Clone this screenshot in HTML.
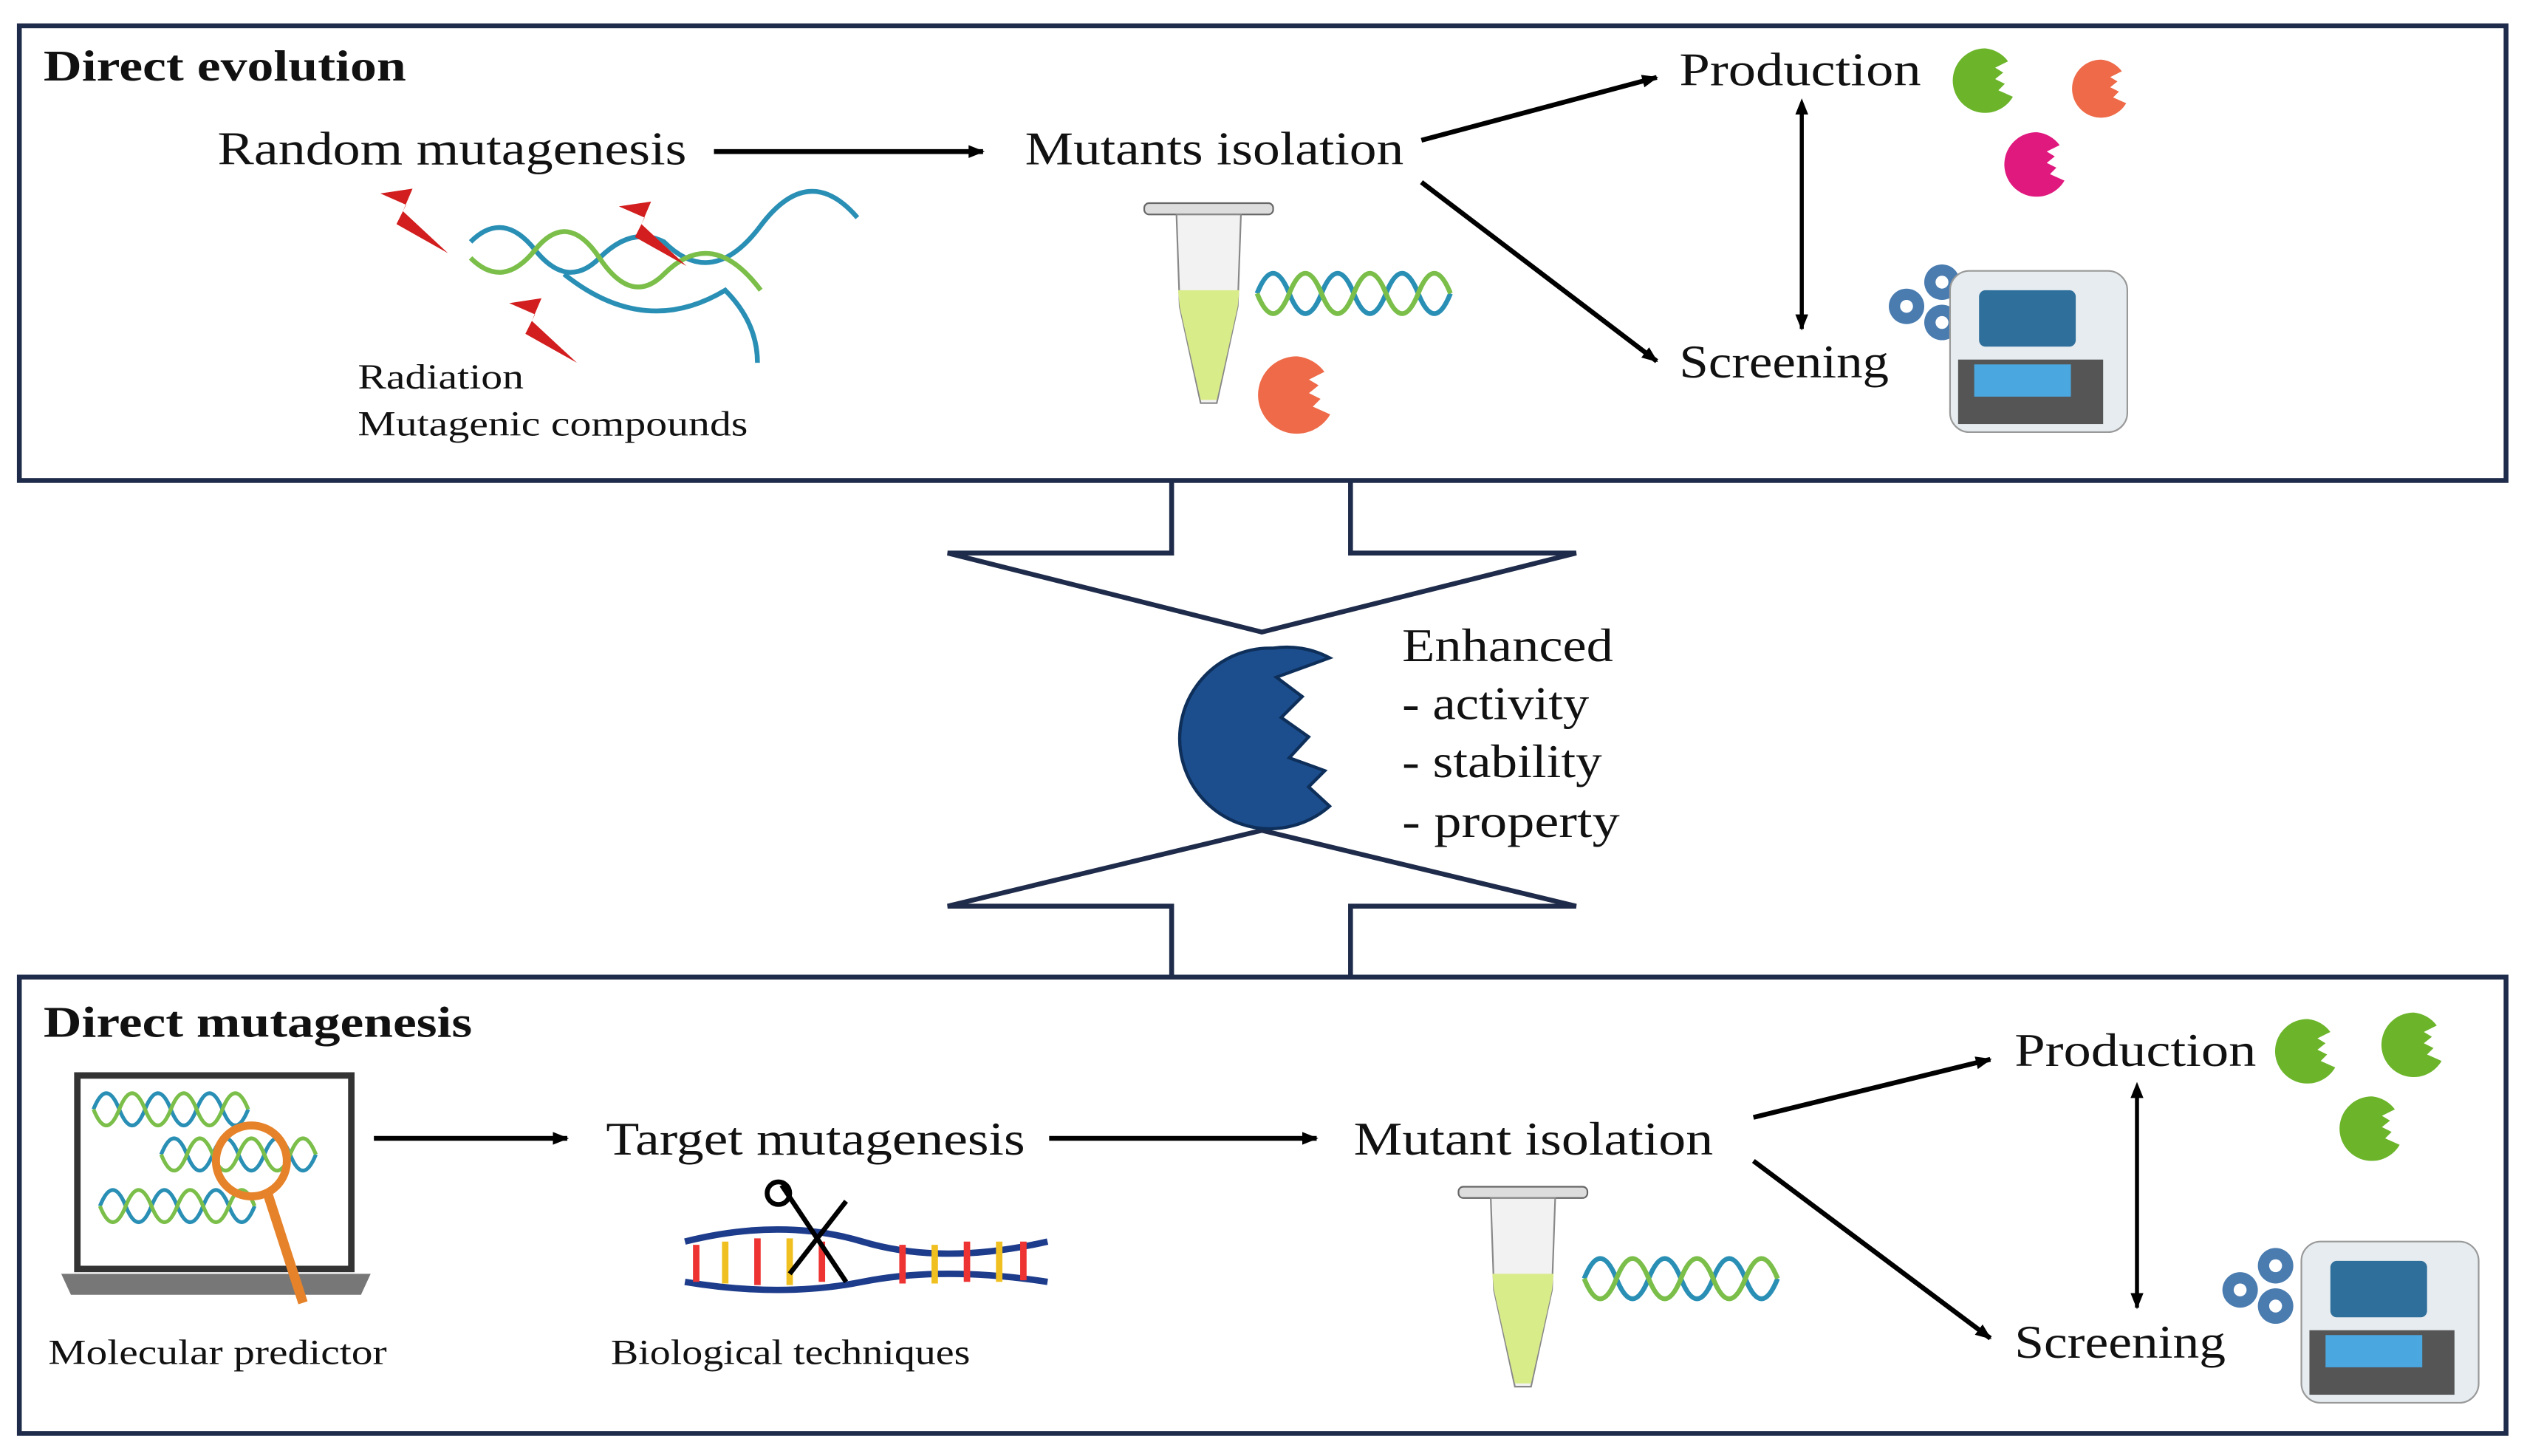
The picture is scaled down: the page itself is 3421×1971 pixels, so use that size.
<!DOCTYPE html>
<html><head><meta charset="utf-8"><style>
html,body{margin:0;padding:0;background:#fff;}
svg{display:block;}
text{font-family:"Liberation Serif",serif;fill:#111;}
</style></head><body>
<svg width="3421" height="1971" viewBox="0 0 1568 903" preserveAspectRatio="none" xmlns="http://www.w3.org/2000/svg">
<defs>
<marker id="ah" markerWidth="10" markerHeight="10" refX="9" refY="5" orient="auto" markerUnits="userSpaceOnUse">
<path d="M0,1 L10,5 L0,9 Z" fill="#000"/></marker>
<marker id="ahs" markerWidth="10" markerHeight="10" refX="1" refY="5" orient="auto-start-reverse" markerUnits="userSpaceOnUse">
<path d="M0,1 L10,5 L0,9 Z" fill="#000"/></marker>
<g id="pac"><path d="M0,-20 A20,20 0 1,0 17,10 L8,6 L12,2 L6,-1 L11,-5 L6,-8 L14,-12 A20,20 0 0,0 0,-20 Z"/></g>
<g id="tube">
<rect x="-40" y="-4" width="80" height="7" rx="3" fill="#ddd" stroke="#666"/>
<path d="M-20,3 L20,3 L18,60 L5,120 L-5,120 L-18,60 Z" fill="#f2f2f2" stroke="#888"/>
<path d="M-19,50 L19,50 L18,60 L5,118 L-5,118 L-18,60 Z" fill="#d9ec8a"/>
</g>
<g id="dna" fill="none" stroke-width="3">
<path d="M0,0 q10,-25 20,0 t20,0 t20,0 t20,0 t20,0 t20,0" stroke="#2a8fb5"/>
<path d="M0,0 q10,25 20,0 t20,0 t20,0 t20,0 t20,0 t20,0" stroke="#7bbf4a"/>
</g>
<g id="machine">
<rect x="0" y="0" width="110" height="100" rx="12" fill="#e6ecef" stroke="#999"/>
<rect x="18" y="12" width="60" height="35" rx="4" fill="#2f6f9c"/>
<rect x="5" y="55" width="90" height="40" fill="#555"/>
<rect x="15" y="58" width="60" height="20" fill="#4aa7e0"/>
</g>
<g id="gears" fill="#4a7cb0">
<circle cx="0" cy="0" r="11"/><circle cx="22" cy="-15" r="11"/><circle cx="22" cy="10" r="11"/>
<circle cx="0" cy="0" r="4" fill="#fff"/><circle cx="22" cy="-15" r="4" fill="#fff"/><circle cx="22" cy="10" r="4" fill="#fff"/>
</g>
</defs>

<rect x="12" y="16" width="1543" height="282" fill="none" stroke="#1f2b4a" stroke-width="3"/>
<rect x="12" y="606" width="1543" height="283" fill="none" stroke="#1f2b4a" stroke-width="3"/>
<polyline points="727,298 727,343 588,343 783,392 978,343 838,343 838,298" fill="none" stroke="#1f2b4a" stroke-width="3"/>
<polyline points="727,606 727,562 588,562 783,515 978,562 838,562 838,606" fill="none" stroke="#1f2b4a" stroke-width="3"/>

<text x="27" y="50" font-size="27" font-weight="bold" textLength="225" lengthAdjust="spacingAndGlyphs">Direct evolution</text>
<text x="135" y="102" font-size="29" textLength="291" lengthAdjust="spacingAndGlyphs">Random mutagenesis</text>
<line x1="443" y1="94" x2="610" y2="94" stroke="#000" stroke-width="3" marker-end="url(#ah)"/>
<text x="636" y="102" font-size="29" textLength="235" lengthAdjust="spacingAndGlyphs">Mutants isolation</text>
<line x1="882" y1="87" x2="1028" y2="48" stroke="#000" stroke-width="3" marker-end="url(#ah)"/>
<line x1="882" y1="113" x2="1028" y2="224" stroke="#000" stroke-width="3" marker-end="url(#ah)"/>
<text x="1042" y="53" font-size="29" textLength="150" lengthAdjust="spacingAndGlyphs">Production</text>
<text x="1042" y="234" font-size="29" textLength="130" lengthAdjust="spacingAndGlyphs">Screening</text>
<line x1="1118" y1="70" x2="1118" y2="204" stroke="#000" stroke-width="2.5" marker-start="url(#ahs)" marker-end="url(#ah)"/>
<use href="#pac" transform="translate(1232,50)" fill="#6cb52b"/>
<use href="#pac" transform="translate(1304,55) scale(0.9)" fill="#ee6a48"/>
<use href="#pac" transform="translate(1264,102)" fill="#e0197f"/>
<use href="#gears" transform="translate(1183,190)"/>
<use href="#machine" transform="translate(1210,168)"/>
<use href="#tube" transform="translate(750,130)"/>
<use href="#dna" transform="translate(780,182)"/>
<use href="#pac" transform="translate(805,245) scale(1.2)" fill="#ee6a48"/>
<g fill="none" stroke-width="3">
<path d="M292,150 q20,-20 40,5 t40,5 t40,-10 q30,30 60,-10 t60,-5" stroke="#2a8fb5"/>
<path d="M292,160 q20,20 40,-5 t40,5 t40,10 q30,-30 60,10" stroke="#7bbf4a"/>
<path d="M350,170 q50,40 100,10 q20,20 20,45" stroke="#2a8fb5"/>
</g>
<g fill="#d21e1e">
<path d="M236,120 l20,-3 l-6,14 l28,26 l-32,-18 l6,-12 Z"/>
<path d="M384,128 l20,-3 l-6,14 l28,26 l-32,-18 l6,-12 Z"/>
<path d="M316,188 l20,-3 l-6,14 l28,26 l-32,-18 l6,-12 Z"/>
</g>
<text x="222" y="241" font-size="22" textLength="103" lengthAdjust="spacingAndGlyphs">Radiation</text>
<text x="222" y="270" font-size="22" textLength="242" lengthAdjust="spacingAndGlyphs">Mutagenic compounds</text>

<path d="M790,402 A56,56 0 1,0 825,500 L812,488 L822,478 L800,470 L812,457 L795,445 L808,432 L792,420 L825,408 A56,56 0 0,0 790,402 Z" fill="#1c4e8e" stroke="#0e2f5a" stroke-width="2"/>
<text x="870" y="410" font-size="29" textLength="131" lengthAdjust="spacingAndGlyphs">Enhanced</text>
<text x="870" y="446" font-size="29" textLength="116" lengthAdjust="spacingAndGlyphs">- activity</text>
<text x="870" y="482" font-size="29" textLength="124" lengthAdjust="spacingAndGlyphs">- stability</text>
<text x="870" y="519" font-size="29" textLength="135" lengthAdjust="spacingAndGlyphs">- property</text>

<text x="27" y="643" font-size="27" font-weight="bold" textLength="266" lengthAdjust="spacingAndGlyphs">Direct mutagenesis</text>
<rect x="48" y="667" width="170" height="120" fill="#fff" stroke="#333" stroke-width="4"/>
<path d="M38,790 L230,790 L224,803 L44,803 Z" fill="#777"/>
<use href="#dna" transform="translate(58,688) scale(0.8)"/>
<use href="#dna" transform="translate(100,716) scale(0.8)"/>
<use href="#dna" transform="translate(62,748) scale(0.8)"/>
<circle cx="156" cy="720" r="22" fill="none" stroke="#e6832a" stroke-width="5"/>
<line x1="166" y1="740" x2="188" y2="808" stroke="#e6832a" stroke-width="6"/>
<text x="30" y="846" font-size="22" textLength="210" lengthAdjust="spacingAndGlyphs">Molecular predictor</text>
<line x1="232" y1="706" x2="352" y2="706" stroke="#000" stroke-width="3" marker-end="url(#ah)"/>
<text x="376" y="716" font-size="29" textLength="260" lengthAdjust="spacingAndGlyphs">Target mutagenesis</text>
<g stroke-width="4">
<path d="M425,770 q60,-15 110,0 t115,0" fill="none" stroke="#1e3c8c"/>
<path d="M425,795 q60,10 110,0 t115,0" fill="none" stroke="#1e3c8c"/>
<g stroke="#e33">
<line x1="432" y1="772" x2="432" y2="795"/><line x1="470" y1="768" x2="470" y2="797"/><line x1="510" y1="770" x2="510" y2="795"/><line x1="560" y1="772" x2="560" y2="796"/><line x1="600" y1="770" x2="600" y2="795"/><line x1="635" y1="770" x2="635" y2="794"/></g>
<g stroke="#f0c020">
<line x1="450" y1="770" x2="450" y2="796"/><line x1="490" y1="768" x2="490" y2="797"/><line x1="580" y1="772" x2="580" y2="796"/><line x1="620" y1="770" x2="620" y2="795"/></g>
</g>
<path d="M485,735 L525,795 M525,745 L490,790" stroke="#000" stroke-width="3"/>
<circle cx="483" cy="740" r="7" fill="none" stroke="#000" stroke-width="3"/>
<text x="379" y="846" font-size="22" textLength="223" lengthAdjust="spacingAndGlyphs">Biological techniques</text>
<line x1="651" y1="706" x2="817" y2="706" stroke="#000" stroke-width="3" marker-end="url(#ah)"/>
<text x="840" y="716" font-size="29" textLength="223" lengthAdjust="spacingAndGlyphs">Mutant isolation</text>
<use href="#tube" transform="translate(945,740)"/>
<use href="#dna" transform="translate(983,793)"/>
<line x1="1088" y1="693" x2="1235" y2="657" stroke="#000" stroke-width="3" marker-end="url(#ah)"/>
<line x1="1088" y1="720" x2="1235" y2="830" stroke="#000" stroke-width="3" marker-end="url(#ah)"/>
<text x="1250" y="661" font-size="29" textLength="150" lengthAdjust="spacingAndGlyphs">Production</text>
<text x="1250" y="842" font-size="29" textLength="131" lengthAdjust="spacingAndGlyphs">Screening</text>
<line x1="1326" y1="680" x2="1326" y2="811" stroke="#000" stroke-width="2.5" marker-start="url(#ahs)" marker-end="url(#ah)"/>
<use href="#pac" transform="translate(1432,652)" fill="#6cb52b"/>
<use href="#pac" transform="translate(1498,648)" fill="#6cb52b"/>
<use href="#pac" transform="translate(1472,700)" fill="#6cb52b"/>
<use href="#gears" transform="translate(1390,800)"/>
<use href="#machine" transform="translate(1428,770)"/>
</svg>
</body></html>
